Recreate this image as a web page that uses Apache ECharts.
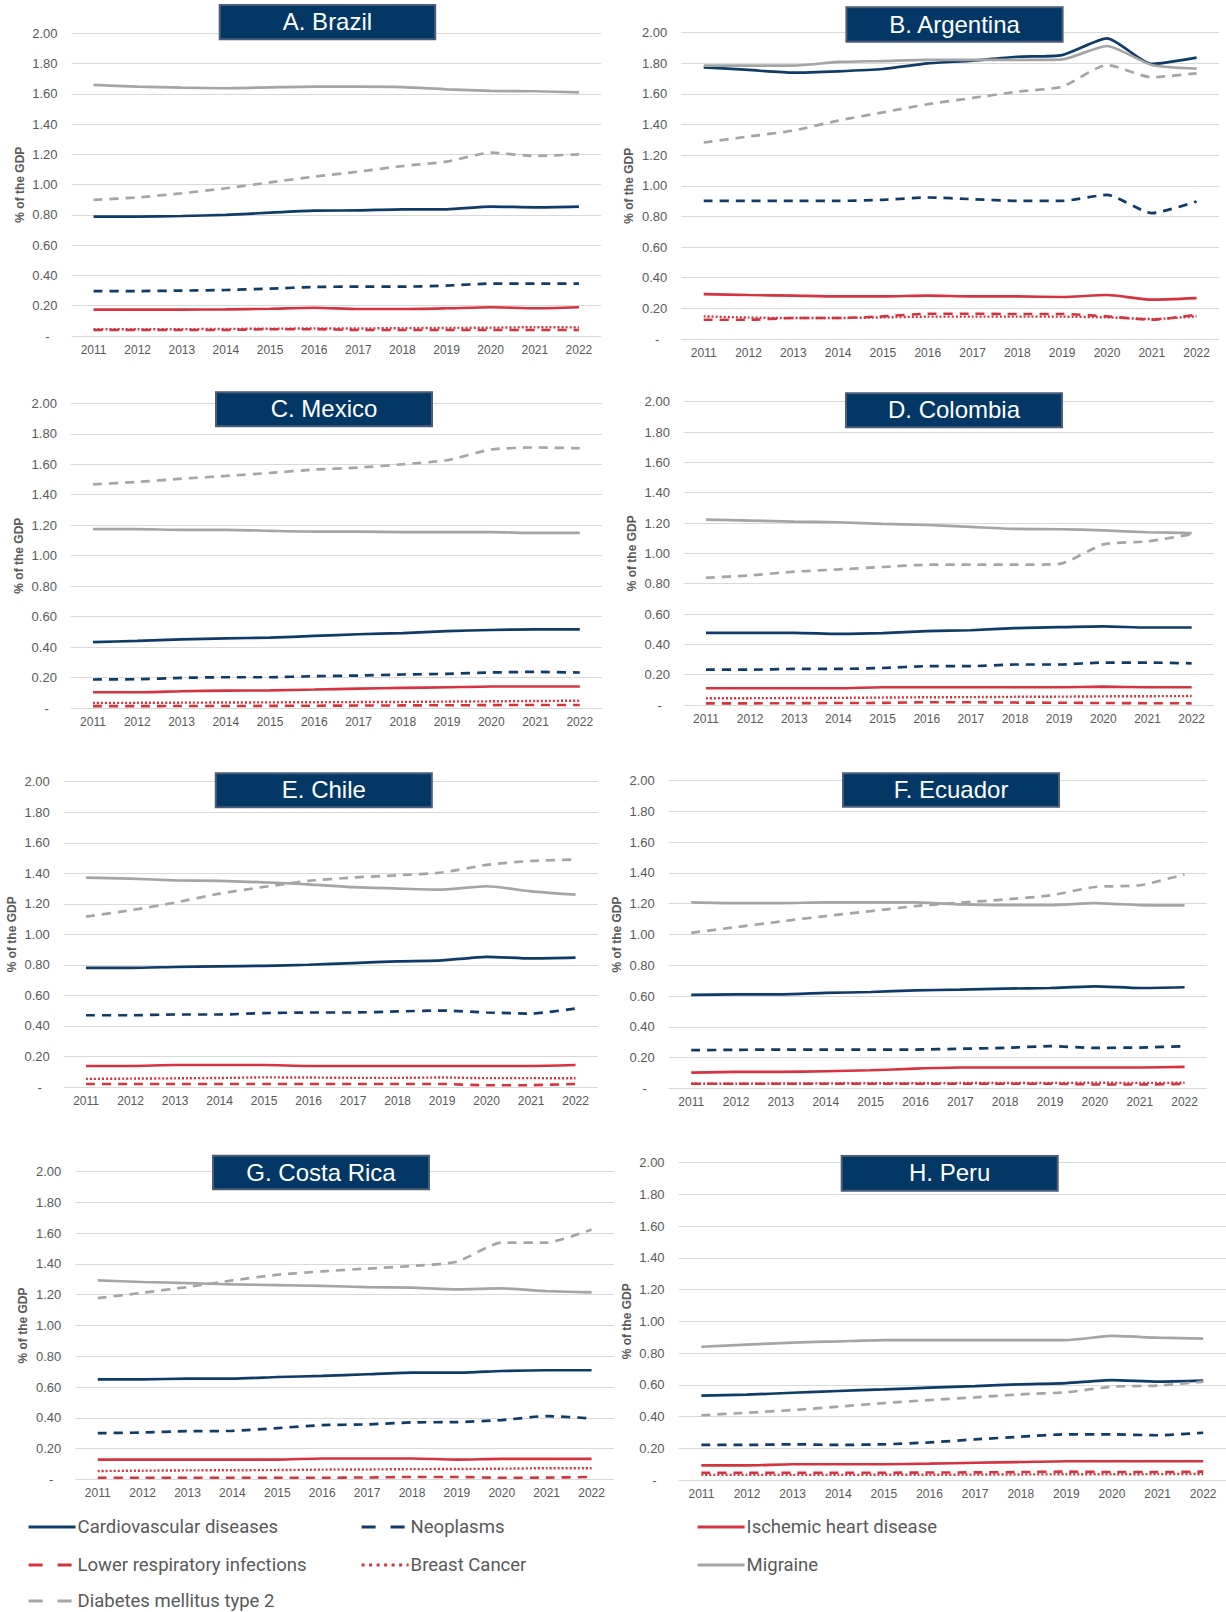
<!DOCTYPE html>
<html>
<head>
<meta charset="utf-8">
<script src="https://cdn.jsdelivr.net/npm/echarts@6/dist/echarts.min.js"></script>
<style>
html,body{margin:0;padding:0;background:#fff;}
#chart{width:1226px;height:1612px;}
</style>
</head>
<body>
<div id="chart"></div>
<script>
// ---------- DATA ----------
const years = ['2011','2012','2013','2014','2015','2016','2017','2018','2019','2020','2021','2022'];
const yTicks = [0, 0.2, 0.4, 0.6, 0.8, 1.0, 1.2, 1.4, 1.6, 1.8, 2.0];
const diseases = ['Cardiovascular diseases','Neoplasms','Ischemic heart disease','Lower respiratory infections','Breast Cancer','Migraine','Diabetes mellitus type 2'];
const panelTitles = ['A. Brazil','B. Argentina','C. Mexico','D. Colombia','E. Chile','F. Ecuador','G. Costa Rica','H. Peru'];

// A. Brazil
const BR_CVD = [0.789,0.789,0.793,0.800,0.815,0.828,0.830,0.837,0.837,0.855,0.850,0.855];
const BR_NEO = [0.297,0.297,0.300,0.304,0.313,0.324,0.326,0.326,0.333,0.346,0.346,0.346];
const BR_IHD = [0.174,0.174,0.174,0.176,0.180,0.187,0.178,0.178,0.183,0.190,0.183,0.190];
const BR_LRI = [0.040,0.040,0.040,0.040,0.045,0.045,0.040,0.040,0.040,0.040,0.040,0.040];
const BR_BC  = [0.045,0.045,0.045,0.047,0.048,0.050,0.050,0.052,0.053,0.055,0.058,0.057];
const BR_MIG = [1.659,1.648,1.641,1.637,1.643,1.648,1.648,1.645,1.630,1.620,1.617,1.610];
const BR_DM2 = [0.899,0.916,0.943,0.976,1.015,1.053,1.086,1.123,1.152,1.211,1.190,1.200];
// B. Argentina
const AR_CVD = [1.774,1.757,1.739,1.748,1.763,1.800,1.817,1.843,1.854,1.963,1.796,1.837];
const AR_NEO = [0.902,0.902,0.902,0.902,0.909,0.924,0.913,0.902,0.902,0.941,0.822,0.898];
const AR_IHD = [0.293,0.287,0.283,0.278,0.278,0.283,0.278,0.278,0.274,0.287,0.257,0.267];
const AR_LRI = [0.126,0.126,0.137,0.137,0.148,0.165,0.165,0.163,0.163,0.148,0.126,0.159];
const AR_BC  = [0.148,0.140,0.137,0.137,0.141,0.146,0.146,0.146,0.146,0.141,0.130,0.148];
const AR_MIG = [1.785,1.785,1.785,1.809,1.815,1.822,1.822,1.822,1.826,1.913,1.789,1.765];
const AR_DM2 = [1.283,1.322,1.361,1.426,1.480,1.533,1.574,1.615,1.648,1.789,1.709,1.735];
// C. Mexico
const MX_CVD = [0.433,0.440,0.451,0.457,0.462,0.473,0.484,0.492,0.505,0.512,0.516,0.516];
const MX_NEO = [0.187,0.189,0.198,0.202,0.202,0.209,0.213,0.220,0.224,0.233,0.237,0.233];
const MX_IHD = [0.103,0.103,0.110,0.114,0.116,0.121,0.127,0.132,0.136,0.141,0.141,0.141];
const MX_LRI = [0.012,0.012,0.013,0.013,0.014,0.015,0.016,0.017,0.018,0.019,0.020,0.020];
const MX_BC  = [0.033,0.034,0.035,0.036,0.037,0.038,0.039,0.040,0.042,0.044,0.046,0.048];
const MX_MIG = [1.174,1.174,1.169,1.169,1.163,1.158,1.158,1.154,1.154,1.154,1.149,1.149];
const MX_DM2 = [1.468,1.484,1.505,1.523,1.543,1.565,1.578,1.600,1.626,1.697,1.710,1.705];
// D. Colombia
const CO_CVD = [0.476,0.476,0.476,0.469,0.474,0.487,0.493,0.507,0.513,0.518,0.511,0.511];
const CO_NEO = [0.233,0.233,0.238,0.238,0.244,0.256,0.256,0.267,0.267,0.280,0.280,0.275];
const CO_IHD = [0.110,0.110,0.110,0.110,0.117,0.117,0.117,0.117,0.117,0.121,0.117,0.117];
const CO_LRI = [0.011,0.011,0.012,0.013,0.014,0.018,0.018,0.016,0.015,0.013,0.012,0.011];
const CO_BC  = [0.044,0.045,0.046,0.047,0.049,0.051,0.052,0.054,0.055,0.057,0.058,0.059];
const CO_MIG = [1.222,1.216,1.209,1.205,1.194,1.187,1.174,1.161,1.159,1.152,1.139,1.134];
const CO_DM2 = [0.839,0.855,0.879,0.894,0.910,0.925,0.925,0.925,0.930,1.059,1.079,1.126];
// E. Chile
const CL_CVD = [0.781,0.781,0.786,0.790,0.794,0.801,0.812,0.823,0.829,0.853,0.842,0.847];
const CL_NEO = [0.470,0.470,0.475,0.475,0.484,0.488,0.488,0.495,0.501,0.488,0.481,0.514];
const CL_IHD = [0.138,0.138,0.144,0.144,0.144,0.138,0.138,0.138,0.138,0.138,0.138,0.144];
const CL_LRI = [0.020,0.020,0.020,0.020,0.020,0.020,0.020,0.020,0.020,0.011,0.012,0.020];
const CL_BC  = [0.053,0.055,0.057,0.059,0.063,0.062,0.060,0.060,0.062,0.058,0.058,0.057];
const CL_MIG = [1.372,1.365,1.354,1.350,1.341,1.328,1.309,1.300,1.293,1.315,1.282,1.260];
const CL_DM2 = [1.116,1.158,1.208,1.267,1.311,1.350,1.372,1.387,1.405,1.455,1.481,1.490];
// F. Ecuador
const EC_CVD = [0.607,0.611,0.611,0.620,0.626,0.637,0.641,0.648,0.652,0.663,0.652,0.657];
const EC_NEO = [0.248,0.250,0.252,0.252,0.252,0.252,0.257,0.263,0.274,0.263,0.265,0.274];
const EC_IHD = [0.102,0.107,0.107,0.111,0.117,0.128,0.135,0.135,0.135,0.135,0.135,0.139];
const EC_LRI = [0.030,0.030,0.030,0.030,0.030,0.030,0.030,0.030,0.030,0.025,0.025,0.028];
const EC_BC  = [0.030,0.030,0.031,0.032,0.033,0.033,0.034,0.034,0.035,0.036,0.035,0.036];
const EC_MIG = [1.209,1.204,1.204,1.209,1.209,1.209,1.196,1.191,1.191,1.204,1.191,1.189];
const EC_DM2 = [1.011,1.048,1.085,1.120,1.152,1.185,1.207,1.228,1.254,1.309,1.320,1.391];
// G. Costa Rica
const CR_CVD = [0.650,0.650,0.654,0.654,0.665,0.672,0.683,0.693,0.693,0.704,0.709,0.709];
const CR_NEO = [0.300,0.304,0.313,0.315,0.333,0.352,0.357,0.370,0.372,0.385,0.411,0.396];
const CR_IHD = [0.128,0.128,0.128,0.128,0.128,0.135,0.135,0.135,0.128,0.133,0.133,0.133];
const CR_LRI = [0.010,0.010,0.010,0.010,0.010,0.010,0.012,0.015,0.015,0.010,0.011,0.015];
const CR_BC  = [0.054,0.056,0.058,0.059,0.060,0.063,0.064,0.066,0.067,0.069,0.072,0.072];
const CR_MIG = [1.293,1.283,1.276,1.267,1.263,1.257,1.250,1.246,1.235,1.241,1.224,1.215];
const CR_DM2 = [1.178,1.213,1.250,1.293,1.330,1.352,1.370,1.387,1.415,1.539,1.539,1.624];
// H. Peru
const PE_CVD = [0.532,0.538,0.550,0.561,0.571,0.582,0.592,0.603,0.611,0.630,0.620,0.626];
const PE_NEO = [0.221,0.221,0.225,0.221,0.225,0.237,0.256,0.273,0.288,0.288,0.282,0.298];
const PE_IHD = [0.092,0.092,0.099,0.099,0.099,0.103,0.109,0.113,0.118,0.118,0.118,0.118];
const PE_LRI = [0.046,0.046,0.046,0.046,0.046,0.047,0.048,0.050,0.053,0.050,0.050,0.053];
const PE_BC  = [0.032,0.032,0.032,0.032,0.033,0.033,0.034,0.035,0.036,0.036,0.037,0.038];
const PE_MIG = [0.840,0.853,0.866,0.874,0.882,0.882,0.882,0.882,0.882,0.908,0.897,0.891];
const PE_DM2 = [0.408,0.424,0.441,0.462,0.485,0.504,0.521,0.540,0.553,0.588,0.595,0.620];

const panelData = [
  [BR_CVD, BR_NEO, BR_IHD, BR_LRI, BR_BC, BR_MIG, BR_DM2],
  [AR_CVD, AR_NEO, AR_IHD, AR_LRI, AR_BC, AR_MIG, AR_DM2],
  [MX_CVD, MX_NEO, MX_IHD, MX_LRI, MX_BC, MX_MIG, MX_DM2],
  [CO_CVD, CO_NEO, CO_IHD, CO_LRI, CO_BC, CO_MIG, CO_DM2],
  [CL_CVD, CL_NEO, CL_IHD, CL_LRI, CL_BC, CL_MIG, CL_DM2],
  [EC_CVD, EC_NEO, EC_IHD, EC_LRI, EC_BC, EC_MIG, EC_DM2],
  [CR_CVD, CR_NEO, CR_IHD, CR_LRI, CR_BC, CR_MIG, CR_DM2],
  [PE_CVD, PE_NEO, PE_IHD, PE_LRI, PE_BC, PE_MIG, PE_DM2]
];

// ---------- LAYOUT & STYLE ----------
const layout = [
  {left:71.5, top:33.3, width:529.5, height:302.7, box:[219.7,5,215.5,34.3]},
  {left:681.3, top:32.7, width:537.7, height:306.3, box:[846.4,7.3,216.2,34.4]},
  {left:70.9, top:403.3, width:531, height:304.7, box:[216,392.3,216,34]},
  {left:683.9, top:401.7, width:529.8, height:303.3, box:[846,393.3,216,34]},
  {left:63.8, top:781.7, width:534, height:305.3, box:[215.8,773.3,216,34]},
  {left:668.8, top:780.7, width:538.2, height:307.6, box:[843,773.3,216,33.4]},
  {left:75.3, top:1171.7, width:538.7, height:307.6, box:[213,1155.7,216,33.6]},
  {left:678.6, top:1162.7, width:556, height:317.3, box:[841.7,1156,216,34.7]}
];
const NAVY = '#0E3B68', RED = '#D5343F', GRAY = '#A5A5A5';
const seriesStyle = [
  {color:NAVY, width:2.7, type:'solid', legendType:'solid'},
  {color:NAVY, width:2.7, type:[9,7], legendType:[14,15]},
  {color:RED,  width:2.6, type:'solid', legendType:'solid'},
  {color:RED,  width:2.6, type:[9,7], legendType:[14,15]},
  {color:RED,  width:2.4, type:[2,2], legendType:[3,4.5]},
  {color:GRAY, width:2.7, type:'solid', legendType:'solid'},
  {color:GRAY, width:2.7, type:[9,7], legendType:[14,15]}
];
const legendPos = [
  {left:27, top:1517.5}, {left:360, top:1517.5}, {left:696, top:1517.5},
  {left:27, top:1555.5}, {left:360, top:1555.5}, {left:696, top:1555.5},
  {left:27, top:1591.5}
];
const LABEL = '#595959';
const FONT = '"Liberation Sans", Arial, sans-serif';

const grids = [], xAxes = [], yAxes = [], series = [], graphics = [];
layout.forEach((L, i) => {
  grids.push({left:L.left, top:L.top, width:L.width, height:L.height, containLabel:false});
  xAxes.push({
    type:'category', gridIndex:i, data:years, boundaryGap:true,
    axisLine:{show:false}, axisTick:{show:false},
    axisLabel:{color:LABEL, fontSize:12, fontFamily:FONT, margin:8, interval:0},
    splitLine:{show:false}
  });
  yAxes.push({
    type:'value', gridIndex:i, min:yTicks[0], max:yTicks[yTicks.length-1], interval:yTicks[1]-yTicks[0],
    name:'% of the GDP', nameLocation:'middle', nameGap:46, nameRotate:90,
    nameTextStyle:{color:LABEL, fontSize:12, fontWeight:'bold', fontFamily:FONT},
    axisLine:{show:false}, axisTick:{show:false},
    axisLabel:{
      color:LABEL, fontSize:13, fontFamily:FONT, margin:14,
      formatter: v => Math.abs(v) < 1e-9 ? '{z|-}' : v.toFixed(2),
      rich:{z:{color:LABEL, fontSize:13, fontFamily:FONT, padding:[0,8,0,0]}}
    },
    splitLine:{show:true, lineStyle:{color:'#D9D9D9', width:1}}
  });
  panelData[i].forEach((arr, d) => {
    const s = seriesStyle[d];
    series.push({
      type:'line', name:diseases[d], xAxisIndex:i, yAxisIndex:i, data:arr,
      symbol:'none', smooth:0.2, silent:true, animation:false,
      lineStyle:{color:s.color, width:s.width, type:s.type, cap:'butt'},
      itemStyle:{color:s.color}
    });
  });
  const b = L.box;
  graphics.push({
    type:'rect', z:100, zlevel:0, shape:{x:b[0], y:b[1], width:b[2], height:b[3]},
    style:{fill:'#023766', stroke:'#4C5E77', lineWidth:2}
  });
  graphics.push({
    type:'text', z:101, zlevel:0, x:b[0]+b[2]/2, y:b[1]+b[3]/2-0.5,
    style:{text:panelTitles[i], fill:'#FFFFFF', fontSize:24, fontFamily:FONT,
           align:'center', verticalAlign:'middle'}
  });
});

const legends = diseases.map((name, d) => ({
  data:[name], left:legendPos[d].left, top:legendPos[d].top,
  orient:'horizontal', padding:0, itemWidth:47, itemHeight:14, itemGap:4,
  icon:'inherit',
  selectedMode:false,
  itemStyle:{opacity:0, borderWidth:0},
  lineStyle:{type:seriesStyle[d].legendType, width:3.2, cap:'butt', opacity:1},
  textStyle:{color:LABEL, fontSize:18.5, fontFamily:'Roboto, "Liberation Sans", sans-serif', lineHeight:18, padding:[0,0,0,-3]}
}));

const chart = echarts.init(document.getElementById('chart'), null, {renderer:'svg'});
chart.setOption({
  backgroundColor:'#FFFFFF',
  animation:false,
  grid:grids, xAxis:xAxes, yAxis:yAxes, series:series,
  legend:legends,
  graphic:graphics
});
</script>
</body>
</html>
